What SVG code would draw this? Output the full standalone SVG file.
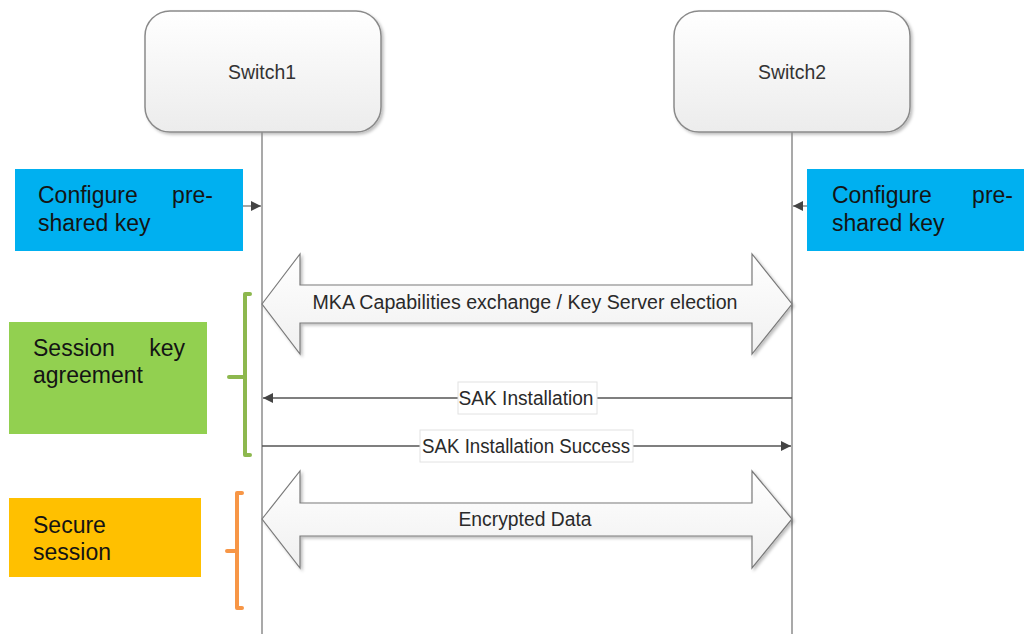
<svg xmlns="http://www.w3.org/2000/svg" width="1024" height="634" viewBox="0 0 1024 634">
  <defs>
    <linearGradient id="boxGrad" x1="0" y1="0" x2="0" y2="1">
      <stop offset="0" stop-color="#ffffff"/>
      <stop offset="1" stop-color="#ececec"/>
    </linearGradient>
    <linearGradient id="arrGrad" x1="0" y1="0" x2="0" y2="1">
      <stop offset="0" stop-color="#ffffff"/>
      <stop offset="1" stop-color="#f0f0f0"/>
    </linearGradient>
    <filter id="shadow" x="-10%" y="-10%" width="120%" height="130%">
      <feDropShadow dx="2" dy="2" stdDeviation="1.5" flood-color="#000" flood-opacity="0.25"/>
    </filter>
    <marker id="arrowHead" viewBox="0 0 10 10" refX="10" refY="5" markerWidth="10" markerHeight="10" markerUnits="userSpaceOnUse" orient="auto">
      <path d="M0,0 L10,5 L0,10 z" fill="#444"/>
    </marker>
  </defs>
  <style>
    .sw { fill: url(#boxGrad); stroke: #8a8a8a; stroke-width: 1.5; filter: url(#shadow); }
    .swt { font-family: "Liberation Sans", Arial, sans-serif; font-size: 21px; fill: #333; text-anchor: middle; }
    .life { stroke: #8c8c8c; stroke-width: 1.5; fill: none; }
    .lbl { font-family: "Liberation Sans", Arial, sans-serif; font-size: 23px; fill: #141414; }
    .msg { stroke: #555; stroke-width: 1.3; fill: none; marker-end: url(#arrowHead); }
    .small { stroke: #888; stroke-width: 1.5; fill: none; marker-end: url(#arrowHead); }
    .mt { font-family: "Liberation Sans", Arial, sans-serif; font-size: 20px; fill: #2a2a2a; text-anchor: middle; }
    .dbl { fill: url(#arrGrad); stroke: #7a7a7a; stroke-width: 1.2; filter: url(#shadow); }
    .lblbox { fill: #ffffff; stroke: #e2e2e2; stroke-width: 1; }
    .brk { fill: none; stroke-width: 4; stroke-linecap: round; stroke-linejoin: round; }
  </style>

  <rect width="1024" height="634" fill="#ffffff"/>

  <g id="switch1">
    <rect class="sw" x="145" y="11" width="236" height="121" rx="25" ry="25"/>
    <text class="swt" x="262" y="79" textLength="68" lengthAdjust="spacingAndGlyphs">Switch1</text>
  </g>
  <g id="switch2">
    <rect class="sw" x="674" y="11" width="236" height="121" rx="25" ry="25"/>
    <text class="swt" x="792" y="79" textLength="68" lengthAdjust="spacingAndGlyphs">Switch2</text>
  </g>

  <g id="lifelines">
    <line class="life" x1="262" y1="132" x2="262" y2="634"/>
    <line class="life" x1="792" y1="132" x2="792" y2="634"/>
  </g>

  <g id="config-left">
    <rect x="15" y="169" width="228" height="82" fill="#00b0f0"/>
    <text class="lbl" x="38" y="203">Configure</text>
    <text class="lbl" x="213" y="203" text-anchor="end">pre-</text>
    <text class="lbl" x="38" y="231">shared key</text>
  </g>
  <g id="config-right">
    <rect x="807" y="169" width="217" height="82" fill="#00b0f0"/>
    <text class="lbl" x="832" y="203">Configure</text>
    <text class="lbl" x="1013" y="203" text-anchor="end">pre-</text>
    <text class="lbl" x="832" y="231">shared key</text>
  </g>

  <g id="session-key">
    <rect x="9" y="322" width="198" height="112" fill="#92d050"/>
    <text class="lbl" x="33" y="356">Session</text>
    <text class="lbl" x="185" y="356" text-anchor="end">key</text>
    <text class="lbl" x="33" y="383">agreement</text>
  </g>
  <g id="secure-session">
    <rect x="9" y="498" width="192" height="79" fill="#ffc000"/>
    <text class="lbl" x="33" y="533">Secure</text>
    <text class="lbl" x="33" y="560">session</text>
  </g>

  <g id="brackets">
    <path class="brk" stroke="#8db84e" d="M250,294 H245 V455 H250 M245,377 H229"/>
    <path class="brk" stroke="#f79646" d="M242,493 H237 V608 H242 M237,551 H227"/>
  </g>

  <g id="connectors">
    <line class="small" x1="243" y1="206" x2="261" y2="206"/>
    <line class="small" x1="807" y1="206" x2="793" y2="206"/>

    <g id="mka">
      <path class="dbl" d="M262,304 L300,254 L300,285 L752,285 L752,254 L792,304 L752,354 L752,323 L300,323 L300,354 Z"/>
      <text class="mt" x="525" y="309" textLength="425" lengthAdjust="spacingAndGlyphs">MKA Capabilities exchange / Key Server election</text>
    </g>

    <g id="sak">
      <line class="msg" x1="792" y1="398" x2="263" y2="398"/>
      <rect class="lblbox" x="458" y="382" width="139" height="32"/>
      <text class="mt" x="526" y="405" textLength="135" lengthAdjust="spacingAndGlyphs">SAK Installation</text>
    </g>

    <g id="sak-success">
      <line class="msg" x1="262" y1="446" x2="791" y2="446"/>
      <rect class="lblbox" x="420" y="430" width="213" height="32"/>
      <text class="mt" x="526" y="453" textLength="208" lengthAdjust="spacingAndGlyphs">SAK Installation Success</text>
    </g>

    <g id="encrypted">
      <path class="dbl" d="M262,519 L300,471 L300,503 L752,503 L752,471 L792,519 L752,568 L752,536 L300,536 L300,568 Z"/>
      <text class="mt" x="525" y="526" textLength="133" lengthAdjust="spacingAndGlyphs">Encrypted Data</text>
    </g>
  </g>
</svg>
